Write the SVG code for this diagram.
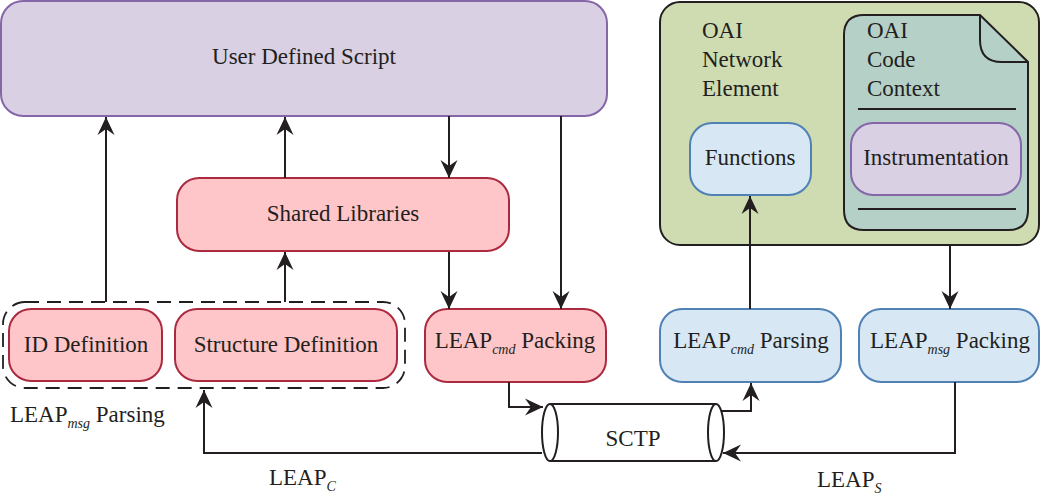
<svg xmlns="http://www.w3.org/2000/svg" width="1041" height="502" viewBox="0 0 1041 502" font-family="'Liberation Serif', 'DejaVu Serif', serif">
<style>
text{font-family:'Liberation Serif','DejaVu Serif',serif;font-size:23px;fill:#231f20}
.c{text-anchor:middle}
.sub{font-style:italic;font-size:14px}
.purple{fill:#d9d0e4;stroke:#8566a8;stroke-width:2}
.pink{fill:#fec6c8;stroke:#ab2a40;stroke-width:2}
.blue{fill:#d7e7f4;stroke:#4f81b5;stroke-width:2}
.conn path{fill:none;stroke:#231f20;stroke-width:2}
</style>
<defs>
<marker id="ah" markerUnits="userSpaceOnUse" markerWidth="22" markerHeight="22" refX="0" refY="0" viewBox="-20 -11 22 22" orient="auto">
<path d="M0,0 L-18,-8.5 L-12,0 L-18,8.5 Z" fill="#231f20"/>
</marker>
</defs>
<rect width="1041" height="502" fill="#ffffff"/>

<g id="user-script">
<rect class="purple" x="1" y="1" width="606" height="115" rx="22"/>
<text class="c" x="304" y="64">User Defined Script</text>
</g>

<g id="shared-libraries">
<rect class="pink" x="177" y="178" width="332" height="73" rx="22"/>
<text class="c" x="343" y="221">Shared Libraries</text>
</g>

<g id="leap-msg-parsing">
<rect x="3" y="302" width="402" height="86" rx="22" fill="none" stroke="#231f20" stroke-width="1.8" stroke-dasharray="14 8"/>
<text x="10" y="422">LEAP<tspan class="sub" dy="6">msg</tspan><tspan dy="-6"> Parsing</tspan></text>
</g>

<g id="id-definition">
<rect class="pink" x="9" y="309" width="153" height="72" rx="22"/>
<text class="c" x="86" y="352">ID Definition</text>
</g>

<g id="structure-definition">
<rect class="pink" x="175" y="309" width="222" height="72" rx="22"/>
<text class="c" x="286" y="352">Structure Definition</text>
</g>

<g id="leap-cmd-packing">
<rect class="pink" x="425" y="309" width="181" height="73" rx="22"/>
<text class="c" x="515" y="348">LEAP<tspan class="sub" dy="6">cmd</tspan><tspan dy="-6"> Packing</tspan></text>
</g>

<g id="sctp">
<rect x="550" y="404" width="166" height="57" fill="#ffffff" stroke="none"/>
<path d="M550,404 H716 M550,461 H716" fill="none" stroke="#231f20" stroke-width="2"/>
<ellipse cx="550" cy="432.5" rx="8" ry="28.5" fill="#ffffff" stroke="#231f20" stroke-width="2"/>
<ellipse cx="716" cy="432.5" rx="8" ry="28.5" fill="#ffffff" stroke="#231f20" stroke-width="2"/>
<text class="c" x="633" y="446">SCTP</text>
</g>

<g id="oai-network-element">
<rect x="660" y="2" width="379" height="243" rx="20" fill="#cfdcb1" stroke="#231f20" stroke-width="2"/>
<text x="702" y="38">OAI</text>
<text x="702" y="67">Network</text>
<text x="702" y="96">Element</text>
</g>

<g id="oai-code-context">
<path d="M864,15 H980 L1028,62 V210 Q1028,230 1008,230 H864 Q844,230 844,210 V35 Q844,15 864,15 Z" fill="#b5d0c7" stroke="#231f20" stroke-width="2"/>
<path d="M980,15 V40 Q980,62 1002,62 H1028" fill="none" stroke="#231f20" stroke-width="2"/>
<path d="M858,109 H1016 M858,209 H1016" fill="none" stroke="#231f20" stroke-width="2"/>
<text x="867" y="38">OAI</text>
<text x="867" y="67">Code</text>
<text x="867" y="96">Context</text>
</g>

<g id="functions">
<rect class="blue" x="690" y="123" width="121" height="72" rx="22"/>
<text class="c" x="750" y="165">Functions</text>
</g>

<g id="instrumentation">
<rect class="purple" x="851" y="123" width="170" height="72" rx="22"/>
<text class="c" x="936" y="165">Instrumentation</text>
</g>

<g id="leap-cmd-parsing">
<rect class="blue" x="660" y="309" width="181" height="73" rx="22"/>
<text class="c" x="751" y="348">LEAP<tspan class="sub" dy="6">cmd</tspan><tspan dy="-6"> Parsing</tspan></text>
</g>

<g id="leap-msg-packing">
<rect class="blue" x="859" y="309" width="180" height="73" rx="22"/>
<text class="c" x="950" y="348">LEAP<tspan class="sub" dy="6">msg</tspan><tspan dy="-6"> Packing</tspan></text>
</g>

<g id="connectors" class="conn">
<path d="M106,302 V117" marker-end="url(#ah)"/>
<path d="M285,178 V117" marker-end="url(#ah)"/>
<path d="M285,302 V252" marker-end="url(#ah)"/>
<path d="M449,116 V178" marker-end="url(#ah)"/>
<path d="M449,252 V309" marker-end="url(#ah)"/>
<path d="M561,116 V309" marker-end="url(#ah)"/>
<path d="M509,382 V407 H543" marker-end="url(#ah)"/>
<path d="M542,453 H204 V390" marker-end="url(#ah)"/>
<path d="M722,411 H751 V383" marker-end="url(#ah)"/>
<path d="M955,382 V453 H723" marker-end="url(#ah)"/>
<path d="M750,309 V196" marker-end="url(#ah)"/>
<path d="M950,245 V309" marker-end="url(#ah)"/>
</g>

<g id="labels">
<text x="269" y="485">LEAP<tspan class="sub" dy="6">C</tspan></text>
<text x="817" y="487">LEAP<tspan class="sub" dy="6">S</tspan></text>
</g>
</svg>
